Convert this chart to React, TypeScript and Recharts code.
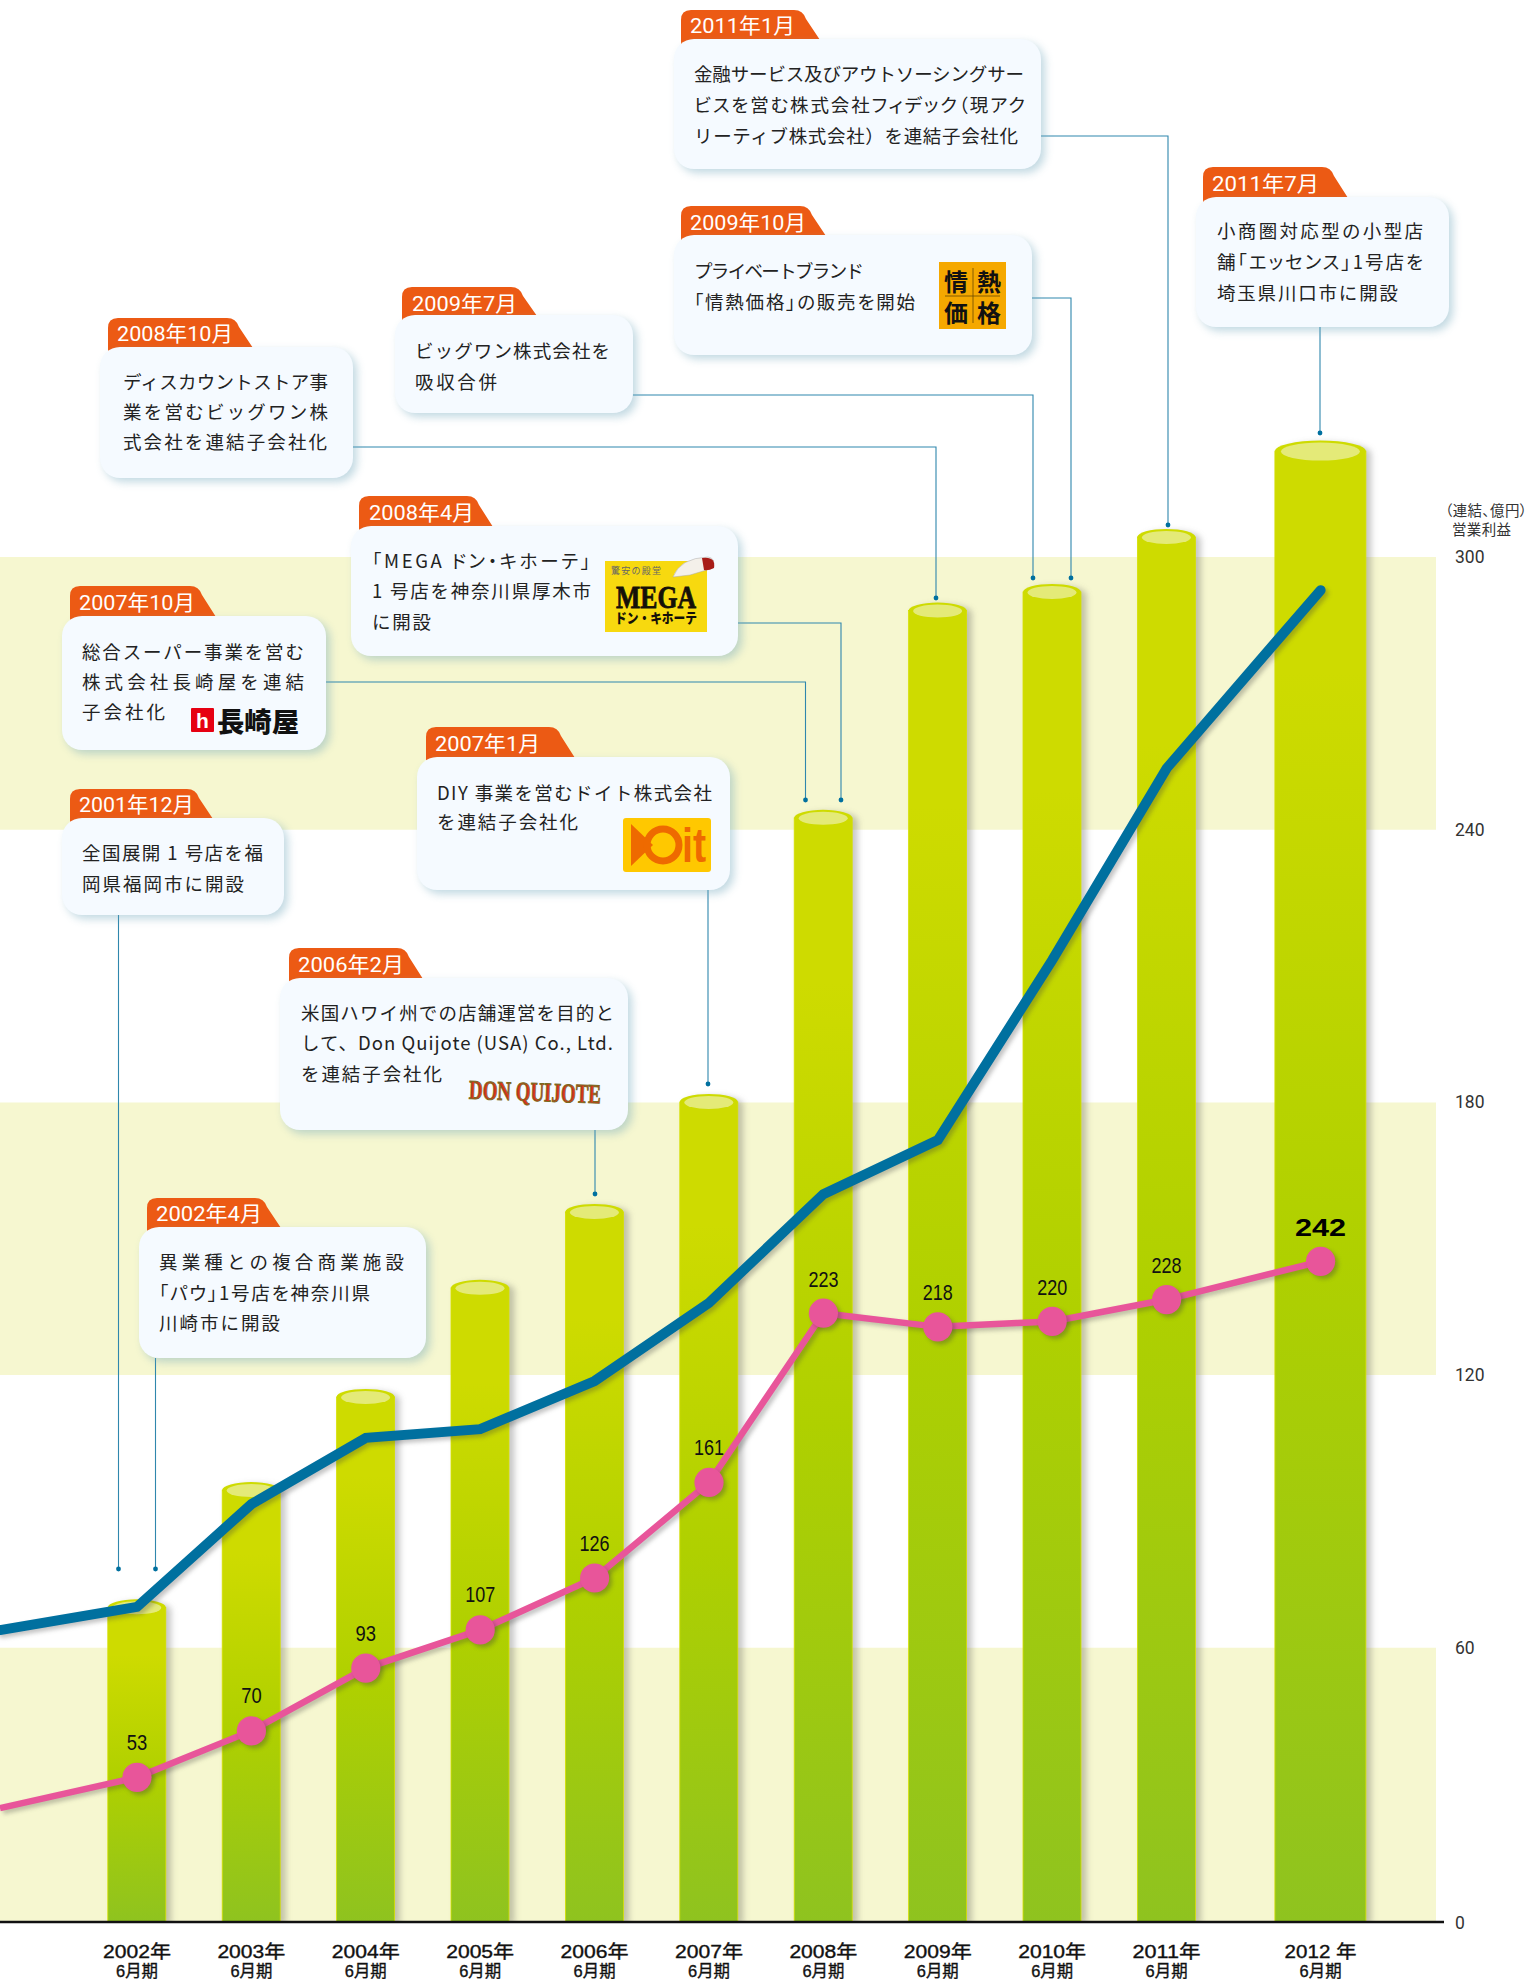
import React from 'react';
import { ComposedChart, Bar, Line, XAxis, YAxis, ReferenceArea } from 'recharts';

// ---------- data ----------
const fiscalYears = ['', '2002年', '2003年', '2004年', '2005年', '2006年', '2007年', '2008年', '2009年', '2010年', '2011年', '2012 年'];
const barValues = [null, 68.9, 94.7, 115.2, 139.2, 155.9, 180.1, 242.6, 288.2, 292.3, 304.4, 323.3];
const blueLineValues = [63.9, 69.0, 91.6, 106.2, 108.1, 118.7, 135.9, 159.8, 171.7, 211.3, 253.5, 292.7];
const pinkLineValues = [41.7, 53, 70, 93, 107, 126, 161, 223, 218, 220, 228, 242];
const axisTicks = [0, 60, 120, 180, 240, 300];
const bands = [[-0.33, 60], [120, 180], [240, 300]];

// ---------- layout (not data) ----------
const W = 1529, H = 1979;
const X0 = 137, STEP = 114.4;
const slotPositions = [-X0 / STEP, 0, 1, 2, 3, 4, 5, 6, 7, 8, 9, 9 + 154 / STEP];
const X_MIN = -X0 / STEP, X_MAX = (1444 - X0) / STEP, BAND_END = (1436 - X0) / STEP;

const chartData = fiscalYears.map((year, i) => ({
  pos: slotPositions[i], year, bar: barValues[i], blue: blueLineValues[i], pink: pinkLineValues[i],
}));

const FONT = '"Noto Sans CJK JP", "Noto Sans", sans-serif';
const TAG_FONT = 'Roboto, "Noto Sans CJK JP", sans-serif';
const TXT = '#222';

type L = { t: string; y: number; w: number };
type CardT = {
  tag: string; tagBox: number[]; tagX: number; tagW: number; tagY: number;
  box: number[]; x: number; lines: L[];
};

const cards: CardT[] = [
  { tag: '2011年1月', tagBox: [681, 10, 820, 39], tagX: 690, tagW: 105, tagY: 25, box: [674, 39, 1041, 169], x: 694,
    lines: [{ t: '金融サービス及びアウトソーシングサー', y: 74, w: 330 }, { t: 'ビスを営む株式会社フィデック（現アク', y: 105, w: 331 }, { t: 'リーティブ株式会社）を連結子会社化', y: 136, w: 324 }] },
  { tag: '2011年7月', tagBox: [1203, 167, 1348, 197], tagX: 1212, tagW: 107, tagY: 183, box: [1196, 197, 1449, 327], x: 1217,
    lines: [{ t: '小商圏対応型の小型店', y: 231, w: 206 }, { t: '舗「エッセンス」1号店を', y: 262, w: 206 }, { t: '埼玉県川口市に開設', y: 293, w: 181 }] },
  { tag: '2009年10月', tagBox: [681, 206, 826, 235], tagX: 690, tagW: 116, tagY: 222, box: [674, 235, 1032, 355], x: 694,
    lines: [{ t: 'プライベートブランド', y: 271, w: 170 }, { t: '「情熱価格」の販売を開始', y: 302, w: 221 }] },
  { tag: '2009年7月', tagBox: [402, 287, 537, 315], tagX: 412, tagW: 105, tagY: 303, box: [395, 315, 633, 413], x: 415,
    lines: [{ t: 'ビッグワン株式会社を', y: 351, w: 195 }, { t: '吸収合併', y: 382, w: 82 }] },
  { tag: '2008年10月', tagBox: [108, 318, 253, 347], tagX: 117, tagW: 116, tagY: 333, box: [100, 347, 353, 478], x: 123,
    lines: [{ t: 'ディスカウントストア事', y: 382, w: 205 }, { t: '業を営むビッグワン株', y: 412, w: 205 }, { t: '式会社を連結子会社化', y: 442, w: 204 }] },
  { tag: '2008年4月', tagBox: [359, 496, 493, 526], tagX: 369, tagW: 105, tagY: 512, box: [351, 526, 738, 656], x: 372,
    lines: [{ t: '「MEGA ドン・キホーテ」', y: 561, w: 218 }, { t: '1 号店を神奈川県厚木市', y: 591, w: 219 }, { t: 'に開設', y: 622, w: 59 }] },
  { tag: '2007年10月', tagBox: [70, 586, 216, 616], tagX: 79, tagW: 116, tagY: 602, box: [62, 616, 326, 750], x: 82,
    lines: [{ t: '総合スーパー事業を営む', y: 652, w: 222 }, { t: '株式会社長崎屋を連結', y: 682, w: 222 }, { t: '子会社化', y: 712, w: 83 }] },
  { tag: '2007年1月', tagBox: [426, 727, 575, 757], tagX: 435, tagW: 105, tagY: 743, box: [417, 757, 730, 890], x: 437,
    lines: [{ t: 'DIY 事業を営むドイト株式会社', y: 793, w: 275 }, { t: 'を連結子会社化', y: 822, w: 141 }] },
  { tag: '2001年12月', tagBox: [70, 789, 213, 818], tagX: 79, tagW: 115, tagY: 804, box: [62, 818, 284, 915], x: 82,
    lines: [{ t: '全国展開 1 号店を福', y: 853, w: 181 }, { t: '岡県福岡市に開設', y: 884, w: 162 }] },
  { tag: '2006年2月', tagBox: [289, 948, 423, 978], tagX: 298, tagW: 106, tagY: 964, box: [280, 978, 628, 1130], x: 301,
    lines: [{ t: '米国ハワイ州での店舗運営を目的と', y: 1013, w: 313 }, { t: 'して、Don Quijote (USA) Co., Ltd.', y: 1043, w: 312 }, { t: 'を連結子会社化', y: 1074, w: 141 }] },
  { tag: '2002年4月', tagBox: [147, 1198, 281, 1227], tagX: 156, tagW: 106, tagY: 1213, box: [139, 1227, 426, 1358], x: 159,
    lines: [{ t: '異業種との複合商業施設', y: 1262, w: 245 }, { t: '「パウ」1号店を神奈川県', y: 1293, w: 211 }, { t: '川崎市に開設', y: 1323, w: 121 }] },
];

// polylines of the leader rules, ending in a dot
const leaders: number[][][] = [
  [[1041, 136], [1168, 136], [1168, 525]],
  [[1320, 327], [1320, 433]],
  [[1032, 298], [1071, 298], [1071, 578]],
  [[633, 395], [1033, 395], [1033, 578]],
  [[353, 447], [936, 447], [936, 598]],
  [[738, 623], [841, 623], [841, 800]],
  [[326, 682], [805.5, 682], [805.5, 800]],
  [[708, 890], [708, 1084]],
  [[595, 1130], [595, 1194]],
  [[118.5, 915], [118.5, 1569]],
  [[155.5, 1358], [155.5, 1569]],
];

// ---------- chart marks ----------
function CylinderBar(props: any) {
  const { x, y, width, height, payload } = props;
  if (payload == null || payload.bar == null) return null;
  const wide = payload.year.startsWith('2012');
  const w = wide ? 91 : 58;
  const ry = wide ? 10.5 : 8;
  const cx = x + width / 2;
  return (
    <g style={{ filter: 'drop-shadow(5px 2px 3px rgba(70,70,70,0.30))' }}>
      <rect x={cx - w / 2} y={y} width={w} height={height + 1.5} fill="url(#barGrad)" stroke="#d6e000" strokeWidth={0.8} />
      <ellipse cx={cx} cy={y} rx={w / 2} ry={ry} fill="#cedb00" />
      <ellipse cx={cx} cy={y + 0.5} rx={w / 2 - (wide ? 6 : 4.5)} ry={ry - 1.5} fill="#e4ea78" />
    </g>
  );
}

function renderXTick(props: any) {
  const { x, y, payload } = props;
  const i = slotPositions.indexOf(payload.value);
  const year = fiscalYears[i];
  const wide = year.startsWith('2012');
  return (
    <g>
      <text x={x} y={y + 21.5} textAnchor="middle" dominantBaseline="central" fontFamily='"Liberation Sans", "Noto Sans CJK JP"' fontSize={18}
        fill="#111" stroke="#111" strokeWidth={0.35} textLength={wide ? 72 : 68} lengthAdjust="spacingAndGlyphs">{year}</text>
      <text x={x} y={y + 40.5} textAnchor="middle" dominantBaseline="central" fontFamily='"Liberation Sans", "Noto Sans CJK JP"' fontSize={16.5}
        fill="#111" stroke="#111" strokeWidth={0.35} textLength={42} lengthAdjust="spacingAndGlyphs">6月期</text>
    </g>
  );
}

function renderYTick(props: any) {
  const { x, y, payload } = props;
  return (
    <text x={x} y={y + (payload.value === 0 ? 2 : 0)} dominantBaseline="central" fontFamily="Roboto" fontSize={17.5} fill="#333">{payload.value}</text>
  );
}

function renderDot(props: any) {
  const { cx, cy, index } = props;
  if (index === 0) return <g key="lead" />;
  return <circle key={index} cx={cx} cy={cy} r={14.6} fill="#e8559a" style={{ filter: 'drop-shadow(3px 3px 2px rgba(60,60,60,0.35))' }} />;
}

function renderPinkLabel(props: any) {
  const { x, y, value, index } = props;
  if (index === 0) return <g key="lead" />;
  const last = index === pinkLineValues.length - 1;
  return last ? (
    <text key={index} x={x} y={y - 34} textAnchor="middle" dominantBaseline="central" fontFamily='"Liberation Sans"' fontWeight={700} fontSize={24}
      fill="#000" textLength={51} lengthAdjust="spacingAndGlyphs">{value}</text>
  ) : (
    <text key={index} x={x} y={y - (index < 7 ? 35 : 34)} textAnchor="middle" dominantBaseline="central" fontFamily='"Liberation Sans"' fontSize={22}
      fill="#111" textLength={String(value).length === 3 ? 30 : 20.5} lengthAdjust="spacingAndGlyphs">{value}</text>
  );
}

// ---------- overlay ----------
function TagShape({ b }: { b: number[] }) {
  const [x1, y1, x2, y2] = b;
  const d = `M${x1},${y2 + 12} L${x1},${y1 + 10} Q${x1},${y1} ${x1 + 10},${y1} L${x2 - 26},${y1} Q${x2 - 17},${y1} ${x2 - 14},${y1 + 9} L${x2},${y2 + 1} L${x1 + 8},${y2 + 2} Z`;
  return <path d={d} fill="#ec5a14" />;
}

function CardView({ c }: { c: CardT }) {
  const [x1, y1, x2, y2] = c.box;
  return (
    <g>
      <TagShape b={c.tagBox} />
      <text x={c.tagX} y={c.tagY + 1} dominantBaseline="central" fontFamily={TAG_FONT} fontSize={21} fill="#fff" textLength={c.tagW} lengthAdjust="spacingAndGlyphs">{c.tag}</text>
      <rect x={x1} y={y1} width={x2 - x1} height={y2 - y1} rx={20} fill="#f5faff" style={{ filter: 'drop-shadow(4px 4px 4px rgba(110,165,185,0.42))' }} />
      {c.lines.map((l, i) => (
        <text key={i} x={c.x} y={l.y - 1.2} dominantBaseline="central" fontFamily={FONT} fontSize={18.5} fill={TXT} textLength={l.w} lengthAdjust="spacing"
          style={/[「（]/.test(l.t) ? { fontFeatureSettings: '"palt"' } : undefined}>{l.t}</text>
      ))}
    </g>
  );
}

function Logos() {
  return (
    <g>
      {/* 情熱価格 */}
      <rect x={939} y={262} width={67} height={67} fill="#f5a800" />
      <line x1={973} y1={268} x2={973} y2={323} stroke="#6b4a00" strokeWidth={0.8} />
      <line x1={945} y1={296} x2={1000} y2={296} stroke="#6b4a00" strokeWidth={0.8} />
      {[['情', 956, 280], ['熱', 989, 280], ['価', 956, 311], ['格', 989, 311]].map(([t, x, y]) => (
        <text key={t as string} x={x as number} y={y as number} textAnchor="middle" dominantBaseline="central" fontFamily={FONT} fontWeight={700} fontSize={24} fill="#111">{t}</text>
      ))}
      {/* MEGA */}
      <rect x={605} y={561} width={102} height={71} fill="#f7d90f" />
      <text x={611} y={570} dominantBaseline="central" fontFamily={FONT} fontSize={9} fill="#666" textLength={50}>驚安の殿堂</text>
      <path d="M673,577 Q680,558 708,557 Q716,558 713,568 Q700,572 690,575 Z" fill="#f4f0ea" stroke="#aaa" strokeWidth={0.5} />
      <path d="M702,558 Q716,556 714,568 Q708,571 704,570 Z" fill="#a81c18" />
      <text x={656} y={597} textAnchor="middle" dominantBaseline="central" fontFamily='"Liberation Serif"' fontWeight={700} fontSize={31} fill="#151008" stroke="#151008" strokeWidth={0.8} textLength={80} lengthAdjust="spacingAndGlyphs">MEGA</text>
      <text x={656} y={617} textAnchor="middle" dominantBaseline="central" fontFamily={FONT} fontWeight={900} fontSize={14} fill="#151008" textLength={82} lengthAdjust="spacingAndGlyphs">ドン・キホーテ</text>
      {/* 長崎屋 */}
      <rect x={191} y={708} width={23} height={24} rx={1} fill="#e60012" />
      <text x={202.5} y={720} textAnchor="middle" dominantBaseline="central" fontFamily='"Liberation Sans"' fontWeight={700} fontSize={21} fill="#fff">h</text>
      <text x={217} y={720} dominantBaseline="central" fontFamily={FONT} fontWeight={900} fontSize={27} fill="#111" textLength={82} lengthAdjust="spacingAndGlyphs">長崎屋</text>
      {/* Doit */}
      <rect x={623} y={818} width={88} height={54} rx={3} fill="#ffc800" />
      <path d="M631,824 L653,845 L631,866 Z" fill="#ee6a00" />
      <circle cx={663} cy={845} r={16} fill="none" stroke="#ee6a00" strokeWidth={7} />
      <text x={694} y={845} textAnchor="middle" dominantBaseline="central" fontFamily='"Liberation Sans"' fontWeight={700} fontSize={48} fill="#ee6a00" textLength={24} lengthAdjust="spacingAndGlyphs">it</text>
      {/* Don Quijote */}
      <text x={535} y={1092} textAnchor="middle" dominantBaseline="central" fontFamily='"Liberation Serif"' fontWeight={700} fontSize={27} fill="#d8321c" stroke="#7a6a20" strokeWidth={1} textLength={132} lengthAdjust="spacingAndGlyphs" transform="rotate(2 535 1092)">DON QUIJOTE</text>
    </g>
  );
}

function Overlay() {
  return (
    <svg width={W} height={H} style={{ position: 'absolute', left: 0, top: 0, pointerEvents: 'none' }}>
      {leaders.map((pts, i) => {
        const end = pts[pts.length - 1];
        return (
          <g key={i}>
            <polyline points={pts.map(p => p.join(',')).join(' ')} fill="none" stroke="#2f87ad" strokeWidth={1.1} />
            <circle cx={end[0]} cy={end[1]} r={2.4} fill="#00709f" />
          </g>
        );
      })}
      {cards.map((c, i) => <CardView key={i} c={c} />)}
      <Logos />
      <text x={1445} y={509} dominantBaseline="central" fontFamily={FONT} fontSize={14.5} fill="#333" textLength={82} lengthAdjust="spacing" style={{ fontFeatureSettings: '"palt"' }}>（連結、億円）</text>
      <text x={1452} y={528} dominantBaseline="central" fontFamily={FONT} fontSize={14.5} fill="#333" textLength={59} lengthAdjust="spacing">営業利益</text>
    </svg>
  );
}

export default function App() {
  return (
    <div style={{ position: 'absolute', left: 0, top: 0, width: W, height: H, overflow: 'hidden', background: '#fff' }}>
      <style>{`
        .recharts-line-curve { filter: drop-shadow(3px 3px 2px rgba(60,60,60,0.30)); }
      `}</style>
      <ComposedChart width={W} height={H} data={chartData} margin={{ top: 102, right: 0, bottom: 0, left: 0 }}>
        <defs>
          <linearGradient id="barGrad" x1="0" y1="0" x2="0" y2="1">
            <stop offset="0%" stopColor="#cedb00" />
            <stop offset="15%" stopColor="#cedb00" />
            <stop offset="55%" stopColor="#afd000" />
            <stop offset="100%" stopColor="#8fc31f" />
          </linearGradient>
        </defs>
        <XAxis dataKey="pos" type="number" domain={[X_MIN, X_MAX]} ticks={slotPositions.slice(1)} interval={0} height={57}
          tick={renderXTick} tickLine={false} axisLine={{ stroke: '#111', strokeWidth: 2.6 }} allowDataOverflow />
        <YAxis yAxisId="main" orientation="right" domain={[-0.33, 400.1]} allowDataOverflow ticks={axisTicks} width={85} tickLine={false} axisLine={false}
          tickMargin={5} tick={renderYTick} interval={0} />
        <YAxis yAxisId="pink" hide domain={[0, 2000 / 3]} />
        {bands.map(([a, b]) => (
          <ReferenceArea key={a} yAxisId="main" x1={X_MIN} x2={BAND_END} y1={a} y2={b} fill="#f6f7d0" fillOpacity={1} stroke="none" />
        ))}
        <Bar yAxisId="main" dataKey="bar" barSize={58} shape={CylinderBar} isAnimationActive={false} />
        <Line yAxisId="main" dataKey="blue" stroke="#00709f" strokeWidth={10} strokeLinecap="round" strokeLinejoin="miter"
          dot={false} activeDot={false} isAnimationActive={false} type="linear" />
        <Line yAxisId="pink" dataKey="pink" stroke="#e8559a" strokeWidth={6.5} dot={renderDot} activeDot={false}
          label={renderPinkLabel} isAnimationActive={false} type="linear" />
      </ComposedChart>
      <Overlay />
    </div>
  );
}
